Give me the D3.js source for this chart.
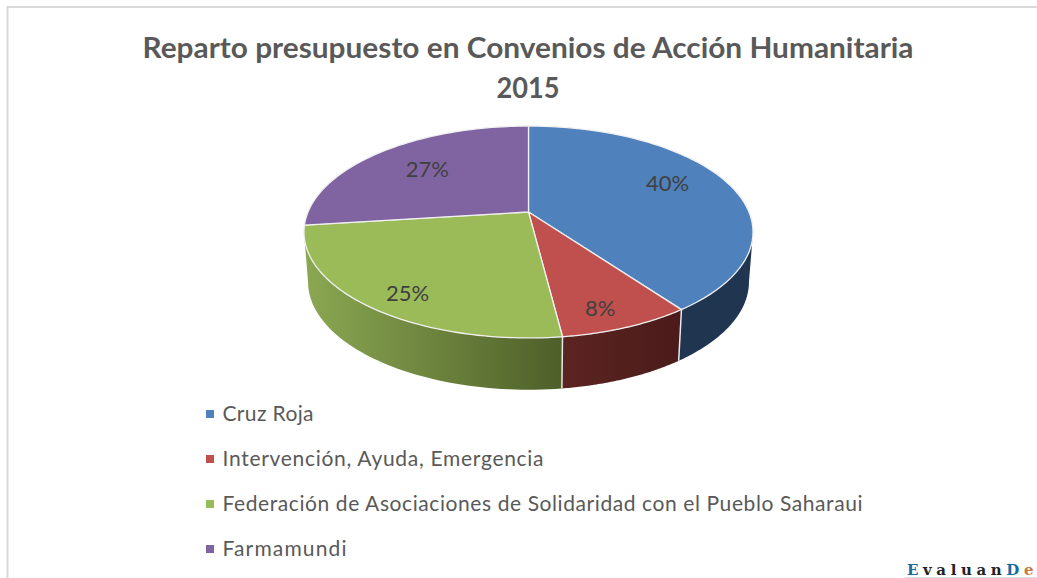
<!DOCTYPE html>
<html><head><meta charset="utf-8">
<script src="https://cdn.jsdelivr.net/npm/d3@7/dist/d3.min.js"></script>
<style>html,body{margin:0;padding:0;background:#fff;overflow:hidden}svg{display:block}</style>
</head><body><svg id="c" width="1037" height="578"></svg>
<script>
const titleLines = ["Reparto presupuesto en Convenios de Acción Humanitaria", "2015"];
const categories = ["Cruz Roja", "Intervención, Ayuda, Emergencia", "Federación de Asociaciones de Solidaridad con el Pueblo Saharaui", "Farmamundi"];
const values = [40, 8, 25, 27];
const colors = ["#4f81bd", "#c0504d", "#9bbb59", "#8064a2"];
const sideLight = ["#1f3550", "#5c2421", "#8ba852", "#4a3a60"];
const sideDark = ["#1f3550", "#4a1b1a", "#4e5f29", "#4a3a60"];
// label nudges from the projected mid-angle position
const labelNudge = [[0,-8],[8,22],[-17,19],[4,0]];

const svg = d3.select("#c");
const font = "Lato, Carlito, 'Open Sans', sans-serif";

// frame
svg.append("path").attr("d","M7.5 578V7H1037").attr("fill","none").attr("stroke","#d9d9d9").attr("stroke-width",2);

// title
svg.selectAll("text.title").data(titleLines).join("text").attr("class","title")
  .attr("x",528).attr("y",(d,i)=>58+i*39.5).attr("text-anchor","middle")
  .attr("font-family",font).attr("font-weight",700).attr("font-size",28.5).attr("fill","#595959")
  .attr("textLength",(d,i)=>i===0?771:63).attr("lengthAdjust","spacingAndGlyphs")
  .text(d=>d);

// perspective projection of the pie disc
const k = 0.1887;
const topDisc = {cx:528.5, cy:212, a:220.5, b:102.2};
const botDisc = {cx:528.5, cy:261.5, a:216.5, b:104};
function proj(disc, th, r=1){
  const u = Math.sin(th)*r, v = -Math.cos(th)*r, w = 1 - k*v;
  return [disc.cx + disc.a*u/w, disc.cy + disc.b*v/w];
}
const pieGen = d3.pie().sort(null).value(d=>d);
const arcs = pieGen(values);
const line = d3.line();
const samples = (a,b)=>d3.range(0,61).map(i=>a+(b-a)*i/60);
const visA = Math.PI - Math.asin(Math.sqrt(1-k*k)), visB = Math.PI + Math.asin(Math.sqrt(1-k*k));

const defs = svg.append("defs");
const sideG = svg.append("g"), topG = svg.append("g");

arcs.forEach((d,i)=>{
  const a = Math.max(d.startAngle,visA), b = Math.min(d.endAngle,visB);
  if(a>=b) return;
  const ts = samples(a,b);
  const pts = ts.map(t=>proj(topDisc,t)).concat(ts.slice().reverse().map(t=>proj(botDisc,t)));
  const xs = pts.map(p=>p[0]);
  const id = "side"+i;
  const g = defs.append("linearGradient").attr("id",id).attr("gradientUnits","userSpaceOnUse")
    .attr("x1",d3.min(xs)).attr("x2",d3.max(xs)).attr("y1",0).attr("y2",0);
  g.append("stop").attr("offset",0).attr("stop-color",sideLight[i]);
  g.append("stop").attr("offset",1).attr("stop-color",sideDark[i]);
  sideG.append("path").attr("d",line(pts)+"Z").attr("fill",`url(#${id})`);
});
// white seams on the side wall
arcs.forEach(d=>{
  if(d.startAngle>visA && d.startAngle<visB){
    sideG.append("path").attr("d",line([proj(topDisc,d.startAngle),proj(botDisc,d.startAngle)]))
      .attr("stroke","#e8e8e8").attr("stroke-width",1.5).attr("fill","none");
  }
});
// top slices
arcs.forEach((d,i)=>{
  const ts = samples(d.startAngle,d.endAngle);
  const pts = [[topDisc.cx,topDisc.cy]].concat(ts.map(t=>proj(topDisc,t)));
  topG.append("path").attr("d",line(pts)+"Z").attr("fill",colors[i])
    .attr("stroke","#f0f0f0").attr("stroke-width",1.3).attr("stroke-linejoin","round");
});
// data labels
svg.selectAll("text.lab").data(arcs).join("text").attr("class","lab")
  .each(function(d,i){
    const p = proj(topDisc,(d.startAngle+d.endAngle)/2,0.69);
    d3.select(this).attr("x",p[0]+labelNudge[i][0]).attr("y",p[1]+labelNudge[i][1]+7.5);
  })
  .attr("text-anchor","middle").attr("font-family",font).attr("font-size",22).attr("fill","#404040")
  .text(d=>d.data+"%");

// legend
const legY = d3.scalePoint().domain(categories).range([414,549]);
const leg = svg.selectAll("g.leg").data(categories).join("g").attr("class","leg")
  .attr("transform",d=>`translate(0,${legY(d)})`);
leg.append("rect").attr("x",206).attr("y",-4).attr("width",8).attr("height",8).attr("fill",(d,i)=>colors[i]);
leg.append("text").attr("x",222.5).attr("y",7).attr("font-family",font).attr("font-size",21).attr("fill","#595959")
  .attr("textLength",(d,i)=>[91,321,640,124][i]).attr("lengthAdjust","spacing").text(d=>d);

// watermark
const wm = svg.append("text").attr("x",907).attr("y",575).attr("font-family","'DejaVu Serif','Liberation Serif',serif")
  .attr("font-weight",700).attr("font-size",15).attr("letter-spacing",4.6).attr("fill","#222");
[["E","#1a6a9c"],["valuan","#222"],["D","#1a6a9c"],["e","#c77a3a"]].forEach(([t,c])=>wm.append("tspan").attr("fill",c).text(t));
svg.append("line").attr("x1",905).attr("x2",1037).attr("y1",577.5).attr("y2",577.5).attr("stroke","#cfe0ea");
</script></body></html>
